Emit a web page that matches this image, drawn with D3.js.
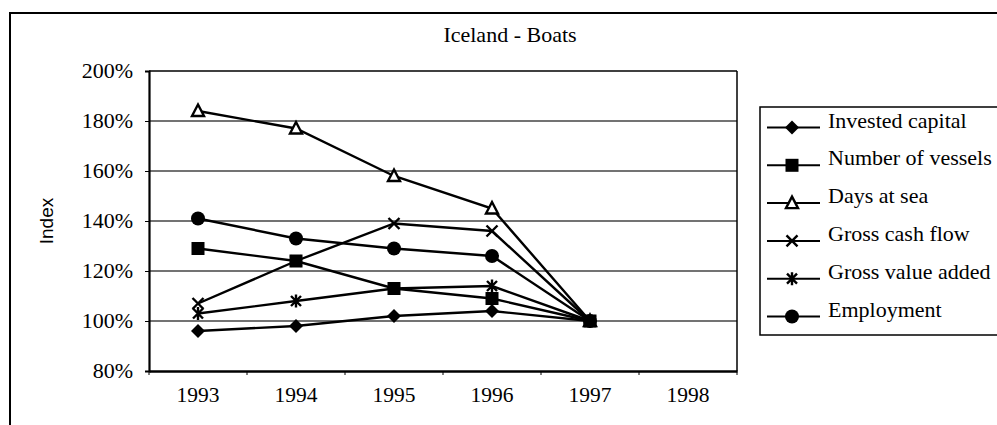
<!DOCTYPE html>
<html><head><meta charset="utf-8">
<script src="https://cdn.jsdelivr.net/npm/d3@7"></script>
<style>html,body{margin:0;padding:0;background:#fff;}svg{display:block;}</style>
</head><body>
<script>
const categories = ["1993","1994","1995","1996","1997","1998"];
const seriesNames = ["Invested capital","Number of vessels","Days at sea","Gross cash flow","Gross value added","Employment"];
const investedCapital = [96, 98, 102, 104, 100, null];
const numberOfVessels = [129, 124, 113, 109, 100, null];
const daysAtSea = [184, 177, 158, 145, 100, null];
const grossCashFlow = [107, 124, 139, 136, 100, null];
const grossValueAdded = [103, 108, 113, 114, 100, null];
const employment = [141, 133, 129, 126, 100, null];
const yTicks = [80, 100, 120, 140, 160, 180, 200];
const titleText = "Iceland - Boats";
const yLabel = "Index";

const markerTypes = ["diamond","square","triangle","x","star","circle"];
const seriesValues = [investedCapital, numberOfVessels, daysAtSea, grossCashFlow, grossValueAdded, employment];

const W = 997, H = 425;
const svg = d3.select("body").append("svg").attr("width", W).attr("height", H);
const serif = "'Liberation Serif','Times New Roman',serif";

// outer frame
svg.append("rect").attr("x",10).attr("y",13).attr("width",1000).attr("height",430)
  .attr("fill","none").attr("stroke","#000").attr("stroke-width",2);

const x = d3.scaleBand().domain(categories).range([149, 737]).padding(0);
const y = d3.scaleLinear().domain([80, 200]).range([371, 71]);
const cx = c => x(c) + x.bandwidth()/2;

// gridlines
svg.append("g").selectAll("line").data(yTicks.filter(t => t>80 && t<200)).join("line")
  .attr("x1",149).attr("x2",737).attr("y1",d=>y(d)).attr("y2",d=>y(d))
  .attr("stroke","#444").attr("stroke-width",1.3);

// plot box top/right
svg.append("line").attr("x1",149).attr("x2",737).attr("y1",y(200)).attr("y2",y(200)).attr("stroke","#000").attr("stroke-width",1.5);
svg.append("line").attr("x1",737).attr("x2",737).attr("y1",y(200)).attr("y2",y(80)).attr("stroke","#000").attr("stroke-width",1.5);

// y axis
const yAxis = svg.append("g").attr("transform","translate(149,0)")
  .call(d3.axisLeft(y).tickValues(yTicks).tickFormat(d => d + "%").tickSize(4).tickPadding(12));
yAxis.select(".domain").attr("stroke-width",2.2);
yAxis.selectAll("text").attr("font-family",serif).attr("font-size",22).attr("fill","#000").attr("dy","0.3em");

// x axis
const xAxis = svg.append("g").attr("transform",`translate(0,${y(80)})`)
  .call(d3.axisBottom(x).tickSize(0).tickPadding(16));
xAxis.select(".domain").attr("stroke-width",2.5);
xAxis.selectAll("text").attr("font-family",serif).attr("font-size",21.5).attr("fill","#000");
svg.append("g").selectAll("line").data(categories.map(c => x(c)).concat([x.range()[1]])).join("line")
  .attr("x1",d=>d).attr("x2",d=>d).attr("y1",y(80)).attr("y2",y(80)+4)
  .attr("stroke","#000").attr("stroke-width",1);

// title
svg.append("text").attr("x",510).attr("y",42).attr("text-anchor","middle")
  .attr("font-family",serif).attr("font-size",22).text(titleText);

// y label
svg.append("text").attr("transform",`translate(53,${(y(80)+y(200))/2}) rotate(-90)`)
  .attr("text-anchor","middle").attr("font-family","'Liberation Sans',Arial,sans-serif")
  .attr("font-size",19).text(yLabel);

function drawMarker(g, type, px, py) {
  const s = 7;
  if (type === "diamond") {
    g.append("path").attr("d",`M${px},${py-s}L${px+s},${py}L${px},${py+s}L${px-s},${py}Z`).attr("fill","#000");
  } else if (type === "square") {
    g.append("rect").attr("x",px-6.5).attr("y",py-6.5).attr("width",13).attr("height",13).attr("fill","#000");
  } else if (type === "triangle") {
    g.append("path").attr("d",`M${px},${py-6.5}L${px+6},${py+5}L${px-6},${py+5}Z`)
      .attr("fill","#fff").attr("stroke","#000").attr("stroke-width",2.4);
  } else if (type === "x") {
    g.append("path").attr("d",`M${px-5.5},${py-5.5}L${px+5.5},${py+5.5}M${px-5.5},${py+5.5}L${px+5.5},${py-5.5}`)
      .attr("stroke","#000").attr("stroke-width",2.4);
  } else if (type === "star") {
    g.append("path").attr("d",`M${px-5},${py-5}L${px+5},${py+5}M${px-5},${py+5}L${px+5},${py-5}M${px},${py-6.5}L${px},${py+6.5}`)
      .attr("stroke","#000").attr("stroke-width",2.4);
  } else if (type === "circle") {
    g.append("circle").attr("cx",px).attr("cy",py).attr("r",7).attr("fill","#000");
  }
}

const line = d3.line().defined(d => d.v != null).x(d => cx(d.c)).y(d => y(d.v));
seriesValues.forEach((vals, i) => {
  const data = categories.map((c, j) => ({c, v: vals[j]}));
  svg.append("path").datum(data).attr("d", line).attr("fill","none").attr("stroke","#000").attr("stroke-width",2.4);
});
// markers drawn in reverse series order (square ends up on top at the shared 1997 point)
seriesValues.map((v, i) => i).reverse().forEach(i => {
  const vals = seriesValues[i];
  const g = svg.append("g");
  categories.forEach((c, j) => { if (vals[j] != null) drawMarker(g, markerTypes[i], cx(c), y(vals[j])); });
});

// legend
const lg = svg.append("g");
lg.append("rect").attr("x",760).attr("y",107).attr("width",260).attr("height",228)
  .attr("fill","#fff").attr("stroke","#000").attr("stroke-width",1.5);
seriesNames.forEach((name, i) => {
  const ry = 127.5 + i*37.8;
  lg.append("line").attr("x1",767).attr("x2",820).attr("y1",ry).attr("y2",ry).attr("stroke","#000").attr("stroke-width",2);
  drawMarker(lg, markerTypes[i], 792, ry);
  lg.append("text").attr("x",828).attr("y",ry).attr("font-family",serif).attr("font-size",22).text(name);
});
</script>
</body></html>
